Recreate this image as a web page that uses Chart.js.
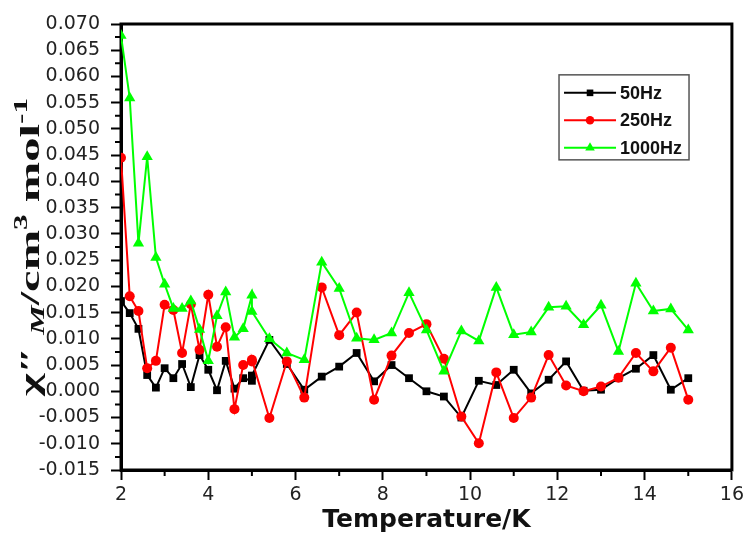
<!DOCTYPE html>
<html>
<head>
<meta charset="utf-8">
<script src="https://cdn.jsdelivr.net/npm/chart.js@4.4.0/dist/chart.umd.min.js"></script>
<style>
  html, body { margin: 0; padding: 0; background: #fff; }
</style>
</head>
<body>
<canvas id="chiChart" width="748" height="535"></canvas>
<script>
// temperature points (K)
const temps = [2.0, 2.2, 2.4, 2.6, 2.8, 3.0, 3.2, 3.4, 3.6, 3.8, 4.0, 4.2, 4.4, 4.6, 4.8, 5.0, 5.0,
    5.4, 5.8, 6.2, 6.6, 7.0, 7.4, 7.8, 8.2, 8.6, 9.0, 9.4, 9.8, 10.2, 10.6, 11.0, 11.4, 11.8,
    12.2, 12.6, 13.0, 13.4, 13.8, 14.2, 14.6, 15.0];

const chi50 = [0.0172, 0.0149, 0.0119, 0.0031, 0.0007, 0.0044, 0.0025, 0.0052, 0.0008, 0.0069, 0.0041,
    0.0002, 0.0058, 0.0005, 0.0025, 0.0020, 0.0030, 0.0098, 0.0052, 0.0003, 0.0028, 0.0047, 0.0073,
    0.0019, 0.0050, 0.0025, 0.0000, -0.0010, -0.0050, 0.0020, 0.0012, 0.0041, -0.0004, 0.0022,
    0.0057, 0.0001, 0.0003, 0.0025, 0.0043, 0.0069, 0.0003, 0.0025];

const chi250 = [0.0445, 0.0181, 0.0153, 0.0044, 0.0058, 0.0165, 0.0155, 0.0073, 0.0166, 0.0079, 0.0184,
    0.0085, 0.0122, -0.0034, 0.0050, 0.0057, 0.0060, -0.0051, 0.0057, -0.0012, 0.0198, 0.0107, 0.0150,
    -0.0016, 0.0068, 0.0111, 0.0128, 0.0062, -0.0048, -0.0099, 0.0036, -0.0051, -0.0012, 0.0069,
    0.0011, 0.0000, 0.0009, 0.0026, 0.0073, 0.0038, 0.0083, -0.0016];

const chi1000 = [0.0678, 0.0559, 0.0282, 0.0447, 0.0255, 0.0204, 0.0158, 0.0158, 0.0172, 0.0118, 0.0058,
    0.0144, 0.0189, 0.0103, 0.0119, 0.0183, 0.0152, 0.0100, 0.0073, 0.0060, 0.0246, 0.0196, 0.0101,
    0.0098, 0.0111, 0.0188, 0.0117, 0.0038, 0.0115, 0.0096, 0.0198, 0.0108, 0.0113, 0.0160,
    0.0162, 0.0127, 0.0164, 0.0076, 0.0206, 0.0153, 0.0157, 0.0117];

const seriesLabels = ['50Hz', '250Hz', '1000Hz'];
const xTitle = 'Temperature/K';
// y title pieces: text and whether it sits on the line, below (sub) or above (sup)
const yTitleParts = [['χ″ ', 'base'], ['M', 'sub'], ['/cm', 'base'], ['3', 'sup'], [' mol', 'base'], ['-1', 'sup']];

const toPoints = (vals) => temps.map((t, i) => ({ x: t, y: vals[i] }));

// box round the plot area plus the small in-between ticks
const framePlugin = {
    id: 'frame',
    beforeDatasetsDraw(chart) {
        const { ctx, chartArea: a, scales: { x, y } } = chart;
        ctx.save();
        ctx.strokeStyle = '#000';
        ctx.lineWidth = 3;
        ctx.strokeRect(a.left, a.top, a.right - a.left, a.bottom - a.top);
        ctx.lineWidth = 2;
        ctx.beginPath();
        for (let t = 3; t < 16; t += 2) {
            const px = x.getPixelForValue(t);
            ctx.moveTo(px, a.bottom);
            ctx.lineTo(px, a.bottom + 6);
        }
        for (let k = 0; k < 17; k++) {
            const py = y.getPixelForValue(-0.0125 + k * 0.005);
            ctx.moveTo(a.left, py);
            ctx.lineTo(a.left - 6, py);
        }
        ctx.stroke();
        ctx.restore();
    }
};

// rotated y title with the subscript / superscripts
const yTitlePlugin = {
    id: 'yTitle',
    afterDraw(chart, args, opts) {
        const { ctx, chartArea: a } = chart;
        const styles = {
            base: { font: 'bold 28px "Liberation Serif", serif', shift: 0 },
            sub: { font: 'italic bold 19px "Liberation Serif", serif', shift: 5 },
            sup: { font: 'bold 18px "Liberation Serif", serif', shift: -12 }
        };
        ctx.save();
        ctx.fillStyle = '#111';
        ctx.textBaseline = 'alphabetic';
        let total = 0;
        const widths = yTitleParts.map(([txt, kind]) => {
            ctx.font = styles[kind].font;
            const w = ctx.measureText(txt).width;
            total += w;
            return w;
        });
        ctx.translate(opts.x, (a.top + a.bottom) / 2);
        ctx.rotate(-Math.PI / 2);
        ctx.scale(opts.length / total, 1);
        let cx = -total / 2;
        yTitleParts.forEach(([txt, kind], i) => {
            ctx.font = styles[kind].font;
            ctx.fillText(txt, cx, styles[kind].shift);
            cx += widths[i];
        });
        ctx.restore();
    }
};

// legend drawn inside the plot, in a framed box
const boxLegend = {
    id: 'boxLegend',
    afterDraw(chart, args, opts) {
        const { ctx, chartArea: a } = chart;
        const bx = a.left + opts.x * (a.right - a.left);
        const by = a.top + opts.y * (a.bottom - a.top);
        ctx.save();
        ctx.strokeStyle = '#555';
        ctx.lineWidth = 1.5;
        ctx.strokeRect(bx, by, 130, 85);
        ctx.font = 'bold 18px "Liberation Sans", Arial, sans-serif';
        ctx.textBaseline = 'middle';
        chart.data.datasets.forEach((ds, i) => {
            const rowY = by + 18 + i * 27.5;
            ctx.strokeStyle = ds.borderColor;
            ctx.lineWidth = 2;
            ctx.beginPath();
            ctx.moveTo(bx + 5, rowY);
            ctx.lineTo(bx + 57, rowY);
            ctx.stroke();
            ctx.fillStyle = ds.borderColor;
            Chart.helpers.drawPoint(ctx, {
                pointStyle: ds.pointStyle, radius: ds.pointRadius * 0.85, borderWidth: 0, rotation: 0
            }, bx + 31, rowY);
            ctx.fillStyle = '#111';
            ctx.fillText(ds.label, bx + 61, rowY + 1);
        });
        ctx.restore();
    }
};

const ctx = document.getElementById('chiChart').getContext('2d');

const chiChart = new Chart(ctx, {
    type: 'line',
    data: {
        datasets: [{
            label: seriesLabels[0],
            data: toPoints(chi50),
            borderColor: '#000000',
            backgroundColor: '#000000',
            pointStyle: 'rect',
            pointRadius: 5.5,
            order: 3
        }, {
            label: seriesLabels[1],
            data: toPoints(chi250),
            borderColor: '#ff0000',
            backgroundColor: '#ff0000',
            pointStyle: 'circle',
            pointRadius: 5,
            order: 2
        }, {
            label: seriesLabels[2],
            data: toPoints(chi1000),
            borderColor: '#00ff00',
            backgroundColor: '#00ff00',
            pointStyle: 'triangle',
            pointRadius: 6.5,
            order: 1
        }]
    },
    options: {
        responsive: false,
        animation: false,
        devicePixelRatio: 1,
        elements: {
            line: { borderWidth: 2, tension: 0, fill: false },
            point: { borderWidth: 0 }
        },
        layout: { padding: { top: 24, right: 15, left: 0, bottom: 0 } },
        scales: {
            x: {
                type: 'linear',
                min: 2,
                max: 16,
                afterFit: (s) => { s.height = 65; },
                ticks: {
                    stepSize: 2,
                    color: '#222',
                    padding: 4,
                    font: { family: '"DejaVu Sans", sans-serif', size: 19 }
                },
                grid: {
                    drawOnChartArea: false,
                    tickLength: 10,
                    tickWidth: 2,
                    tickColor: '#000'
                },
                border: { color: '#000', width: 3 },
                title: {
                    display: true,
                    text: xTitle,
                    color: '#111',
                    padding: { top: 0, bottom: 0 },
                    font: { family: '"DejaVu Sans", sans-serif', size: 25, weight: 'bold' }
                }
            },
            y: {
                min: -0.015,
                max: 0.07,
                afterFit: (s) => { s.width = 121; },
                ticks: {
                    stepSize: 0.005,
                    color: '#222',
                    padding: 11,
                    font: { family: '"DejaVu Sans", sans-serif', size: 19 },
                    callback: (v) => (Math.abs(v) < 1e-9 ? 0 : v).toFixed(3)
                },
                grid: {
                    drawOnChartArea: false,
                    tickLength: 10,
                    tickWidth: 2,
                    tickColor: '#000'
                },
                border: { color: '#000', width: 3 },
                title: { display: false }
            }
        },
        plugins: {
            legend: { display: false },
            tooltip: { enabled: false },
            boxLegend: { x: 0.717, y: 0.114 },
            yTitle: { x: 39, length: 298 }
        }
    },
    plugins: [framePlugin, yTitlePlugin, boxLegend]
});
</script>
</body>
</html>
